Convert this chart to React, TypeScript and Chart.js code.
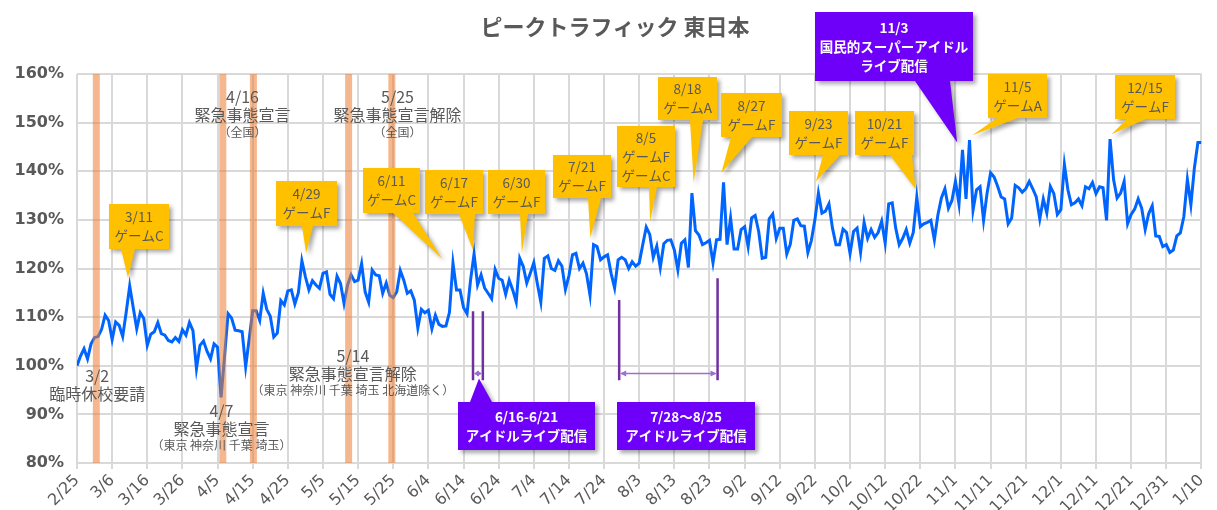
import React, { useEffect, useRef } from 'react';
import { Chart, registerables } from 'chart.js';

Chart.register(...registerables);

// ---------- DATA ----------
const xTickLabels = [
  '2/25', '3/6', '3/16', '3/26', '4/5', '4/15', '4/25', '5/5', '5/15', '5/25', '6/4',
  '6/14', '6/24', '7/4', '7/14', '7/24', '8/3', '8/13', '8/23', '9/2', '9/12', '9/22',
  '10/2', '10/12', '10/22', '11/1', '11/11', '11/21', '12/1', '12/11', '12/21', '12/31', '1/10',
];

// daily peak traffic (%), 2/25 .. 1/10
const trafficValues = [
  100.0, 102.0, 103.5, 101.4, 104.5, 105.8, 106.0, 107.5, 110.4, 109.3,
  105.4, 109.0, 108.3, 106.0, 111.0, 116.4, 112.0, 107.6, 110.9, 109.7,
  104.2, 106.5, 107.0, 108.9, 106.6, 106.3, 105.2, 104.9, 105.8, 105.0,
  107.4, 106.3, 108.9, 107.2, 99.4, 104.2, 105.1, 103.0, 101.4, 104.5,
  103.8, 93.5, 102.0, 110.7, 109.8, 107.3, 107.2, 107.0, 99.8, 105.5,
  111.3, 111.3, 109.3, 114.9, 111.6, 110.2, 105.9, 106.7, 113.4, 112.5,
  115.4, 115.6, 112.7, 115.0, 121.6, 118.3, 115.6, 117.5, 116.6, 115.9,
  119.0, 119.3, 114.7, 113.8, 118.4, 116.9, 112.8, 116.6, 118.7, 117.3,
  117.6, 121.0, 115.2, 113.1, 119.7, 118.7, 118.5, 114.9, 117.0, 114.5,
  114.0, 115.2, 119.6, 117.6, 114.9, 115.4, 113.5, 107.8, 111.6, 110.9,
  111.4, 107.6, 110.4, 108.5, 108.1, 108.2, 111.0, 121.1, 115.6, 115.6,
  112.0, 110.7, 117.6, 123.0, 116.6, 118.7, 116.0, 114.9, 113.8, 119.8,
  118.0, 117.6, 114.7, 117.6, 115.6, 113.1, 122.1, 120.4, 117.0, 119.0,
  121.2, 116.9, 113.1, 122.1, 122.6, 120.0, 119.6, 121.6, 120.5, 115.7,
  118.5, 122.8, 123.1, 120.0, 121.1, 118.9, 114.5, 124.9, 124.5, 121.8,
  122.4, 122.8, 119.0, 116.0, 121.8, 122.3, 121.8, 120.0, 121.4, 120.5,
  121.1, 124.9, 128.5, 127.0, 122.3, 124.6, 120.2, 125.1, 125.8, 125.9,
  123.8, 119.7, 125.2, 125.9, 120.2, 135.5, 127.8, 126.9, 124.9, 125.3,
  125.8, 121.2, 125.9, 126.0, 137.7, 124.9, 130.4, 124.0, 124.0, 128.0,
  128.6, 124.5, 130.4, 130.9, 127.6, 122.1, 122.3, 130.2, 131.2, 126.2,
  128.3, 128.3, 123.0, 125.0, 129.9, 130.2, 128.8, 128.7, 123.3, 125.8,
  130.0, 135.5, 131.4, 131.8, 133.3, 128.3, 124.9, 124.9, 128.1, 127.4,
  123.1, 127.6, 128.3, 123.3, 129.5, 126.2, 128.0, 126.4, 127.4, 129.7,
  125.2, 133.3, 133.5, 128.3, 124.9, 126.2, 128.0, 125.2, 127.4, 134.7,
  128.6, 129.2, 129.5, 129.9, 125.9, 131.0, 134.5, 136.4, 132.4, 134.0,
  137.9, 133.3, 144.4, 134.3, 146.4, 132.0, 136.2, 136.8, 129.9, 135.5,
  139.7, 138.8, 136.9, 134.7, 134.3, 129.2, 130.4, 137.1, 136.6, 135.7,
  136.4, 137.9, 136.4, 134.7, 130.2, 134.3, 131.4, 136.9, 135.4, 131.1,
  132.1, 141.4, 136.2, 133.1, 133.5, 134.3, 132.9, 136.8, 136.4, 137.7,
  135.4, 136.8, 136.6, 129.9, 146.6, 138.3, 134.5, 135.5, 137.9, 129.2,
  131.1, 132.2, 134.3, 132.4, 128.0, 131.3, 132.9, 126.7, 126.6, 124.5,
  124.9, 123.3, 123.8, 126.7, 127.3, 130.7, 138.3, 133.1, 140.7, 145.9, 145.9,
];

const dayIndex = trafficValues.map((_, i) => i);

// y axis range (%)
const yMin = 80;
const yMax = 160;
const yStep = 10;

// event markers (day index from 2/25)
const eventBarDays = [5.5, 41.5, 50.2, 77.3, 89.6];

const titleText = 'ピークトラフィック 東日本';

// ---------- ANNOTATION LAYOUT ----------
const YELLOW = '#FFC000';
const PURPLE = 'rgb(110,0,250)';
const GRAY_TEXT = '#595959';

type Callout = {
  lines: string[];
  box: [number, number, number, number];
  base?: [number, number];
  tip?: [number, number];
  fill: string;
  color: string;
  bold?: boolean;
  baseTop?: boolean;
};

const callouts: Callout[] = [
  { lines: ['3/11', 'ゲームC'], box: [109, 204, 60, 45], base: [121, 135], tip: [14.5, 118.2], fill: YELLOW, color: GRAY_TEXT },
  { lines: ['4/29', 'ゲームF'], box: [276, 181, 61, 45], base: [302, 313], tip: [65.2, 123.2], fill: YELLOW, color: GRAY_TEXT },
  { lines: ['6/11', 'ゲームC'], box: [363, 168, 57, 45], base: [393, 413], tip: [103.9, 122.0], fill: YELLOW, color: GRAY_TEXT },
  { lines: ['6/17', 'ゲームF'], box: [425, 170, 58, 44], base: [459, 475], tip: [112.7, 123.8], fill: YELLOW, color: GRAY_TEXT },
  { lines: ['6/30', 'ゲームF'], box: [488, 170, 57, 44], base: [520, 528], tip: [126.6, 123.2], fill: YELLOW, color: GRAY_TEXT },
  { lines: ['7/21', 'ゲームF'], box: [553, 155, 58, 43], base: [588, 601], tip: [146.1, 126.3], fill: YELLOW, color: GRAY_TEXT },
  { lines: ['8/5', 'ゲームF', 'ゲームC'], box: [617, 126, 58, 61], base: [649, 657], tip: [163.1, 129.6], fill: YELLOW, color: GRAY_TEXT },
  { lines: ['8/18', 'ゲームA'], box: [658, 77, 59, 43], base: [690, 703], tip: [175.5, 137.7], fill: YELLOW, color: GRAY_TEXT },
  { lines: ['8/27', 'ゲームF'], box: [721, 93, 61, 44], base: [731, 752], tip: [183.4, 139.7], fill: YELLOW, color: GRAY_TEXT },
  { lines: ['9/23', 'ゲームF'], box: [789, 111, 59, 44], base: [823, 840], tip: [210.3, 137.9], fill: YELLOW, color: GRAY_TEXT },
  { lines: ['10/21', 'ゲームF'], box: [855, 111, 59, 44], base: [890, 912], tip: [238.6, 136.4], fill: YELLOW, color: GRAY_TEXT },
  { lines: ['11/5', 'ゲームA'], box: [988, 74, 59, 44], base: [997, 1018], tip: [254.8, 147.4], fill: YELLOW, color: GRAY_TEXT },
  { lines: ['12/15', 'ゲームF'], box: [1115, 75, 60, 44], base: [1127, 1146], tip: [294.4, 147.6], fill: YELLOW, color: GRAY_TEXT },
  { lines: ['11/3', '国民的スーパーアイドル', 'ライブ配信'], box: [815, 12, 158, 69], base: [915, 950], tip: [250.5, 145.9], fill: PURPLE, color: '#ffffff', bold: true },
  { lines: ['6/16-6/21', 'アイドルライブ配信'], box: [458, 402, 137, 48], base: [470, 492], tip: [114.4, 97.4], fill: PURPLE, color: '#ffffff', bold: true, baseTop: true },
  { lines: ['7/28〜8/25', 'アイドルライブ配信'], box: [617, 402, 138, 48], fill: PURPLE, color: '#ffffff', bold: true },
];

type TextGroup = { day: number; value: number; lines: string[]; small?: string };
const eventTexts: TextGroup[] = [
  { day: 5.74, value: 98.0, lines: ['3/2', '臨時休校要請'] },
  { day: 41.1, value: 90.75, lines: ['4/7', '緊急事態宣言'], small: '（東京 神奈川 千葉 埼玉）' },
  { day: 47.1, value: 155.2, lines: ['4/16', '緊急事態宣言'], small: '（全国）' },
  { day: 78.5, value: 102.1, lines: ['5/14', '緊急事態宣言解除'], small: '（東京 神奈川 千葉 埼玉 北海道除く）' },
  { day: 91.2, value: 155.2, lines: ['5/25', '緊急事態宣言解除'], small: '（全国）' },
];

type Range = { from: number; to: number; topFrom: number; topTo: number; bottom: number; arrow: number };
const liveRanges: Range[] = [
  { from: 112.7, to: 115.5, topFrom: 111.2, topTo: 111.2, bottom: 97.0, arrow: 98.4 },
  { from: 154.3, to: 182.3, topFrom: 113.5, topTo: 118.0, bottom: 97.0, arrow: 98.4 },
];

const CJK = "'Noto Sans CJK JP', 'DejaVu Sans', sans-serif";

function drawCallout(ctx: CanvasRenderingContext2D, c: Callout, tip: [number, number] | null) {
  const [bx, by, bw, bh] = c.box;
  ctx.save();
  ctx.shadowColor = 'rgba(0,0,0,0.35)';
  ctx.shadowBlur = 4;
  ctx.shadowOffsetX = 3;
  ctx.shadowOffsetY = 3;
  ctx.fillStyle = c.fill;
  ctx.beginPath();
  if (tip && c.base) {
    if (c.baseTop) {
      ctx.moveTo(bx, by);
      ctx.lineTo(c.base[0], by);
      ctx.lineTo(tip[0], tip[1]);
      ctx.lineTo(c.base[1], by);
      ctx.lineTo(bx + bw, by);
      ctx.lineTo(bx + bw, by + bh);
      ctx.lineTo(bx, by + bh);
    } else {
      ctx.moveTo(bx, by);
      ctx.lineTo(bx + bw, by);
      ctx.lineTo(bx + bw, by + bh);
      ctx.lineTo(c.base[1], by + bh);
      ctx.lineTo(tip[0], tip[1]);
      ctx.lineTo(c.base[0], by + bh);
      ctx.lineTo(bx, by + bh);
    }
  } else {
    ctx.rect(bx, by, bw, bh);
  }
  ctx.closePath();
  ctx.fill();
  ctx.restore();

  ctx.save();
  ctx.fillStyle = c.color;
  ctx.font = `${c.bold ? 'bold ' : ''}13.5px ${CJK}`;
  ctx.textAlign = 'center';
  ctx.textBaseline = 'middle';
  const lh = 19;
  const cx = bx + bw / 2;
  const cy = by + bh / 2;
  const n = c.lines.length;
  c.lines.forEach((t, i) => {
    ctx.fillText(t, cx, cy + (i - (n - 1) / 2) * lh);
  });
  ctx.restore();
}

const annotationPlugin = {
  id: 'peakAnnotations',
  afterDatasetsDraw(chart: any) {
    const { ctx, chartArea } = chart;
    const xs = chart.scales.x;
    const ys = chart.scales.y;

    // orange event bars (semi-transparent, over the line)
    ctx.save();
    ctx.fillStyle = 'rgba(237,125,49,0.55)';
    eventBarDays.forEach((d) => {
      const px = xs.getPixelForValue(d);
      ctx.fillRect(px - 3.5, chartArea.top, 7, chartArea.bottom - chartArea.top);
    });
    ctx.restore();

    // live distribution ranges
    liveRanges.forEach((r) => {
      const x1 = xs.getPixelForValue(r.from);
      const x2 = xs.getPixelForValue(r.to);
      const yb = ys.getPixelForValue(r.bottom);
      const ya = ys.getPixelForValue(r.arrow);
      ctx.save();
      ctx.strokeStyle = '#7030A0';
      ctx.lineWidth = 2.5;
      ctx.beginPath();
      ctx.moveTo(x1, ys.getPixelForValue(r.topFrom));
      ctx.lineTo(x1, yb);
      ctx.moveTo(x2, ys.getPixelForValue(r.topTo));
      ctx.lineTo(x2, yb);
      ctx.stroke();
      ctx.strokeStyle = '#9B6FD0';
      ctx.fillStyle = '#9B6FD0';
      ctx.lineWidth = 1.5;
      ctx.beginPath();
      ctx.moveTo(x1 + 2, ya);
      ctx.lineTo(x2 - 2, ya);
      ctx.stroke();
      const ah = Math.min(6, (x2 - x1) / 2);
      ctx.beginPath();
      ctx.moveTo(x1 + 1, ya);
      ctx.lineTo(x1 + 1 + ah, ya - 3);
      ctx.lineTo(x1 + 1 + ah, ya + 3);
      ctx.closePath();
      ctx.fill();
      ctx.beginPath();
      ctx.moveTo(x2 - 1, ya);
      ctx.lineTo(x2 - 1 - ah, ya - 3);
      ctx.lineTo(x2 - 1 - ah, ya + 3);
      ctx.closePath();
      ctx.fill();
      ctx.restore();
    });

    // gray event texts
    eventTexts.forEach((g) => {
      const cx = xs.getPixelForValue(g.day);
      const cy = ys.getPixelForValue(g.value);
      ctx.save();
      ctx.fillStyle = GRAY_TEXT;
      ctx.textAlign = 'center';
      ctx.textBaseline = 'middle';
      ctx.font = `16px ${CJK}`;
      g.lines.forEach((t, i) => {
        ctx.fillText(t, cx, cy + i * 18);
      });
      if (g.small) {
        ctx.font = `12px ${CJK}`;
        ctx.fillText(g.small, cx, cy + g.lines.length * 18 - 1);
      }
      ctx.restore();
    });

    // callouts
    callouts.forEach((c) => {
      const tip: [number, number] | null = c.tip
        ? [xs.getPixelForValue(c.tip[0]), ys.getPixelForValue(c.tip[1])]
        : null;
      drawCallout(ctx, c, tip);
    });

    // title
    ctx.save();
    ctx.fillStyle = GRAY_TEXT;
    ctx.font = `bold 22px ${CJK}`;
    ctx.textAlign = 'center';
    ctx.textBaseline = 'middle';
    ctx.fillText(titleText, 615, 27);
    ctx.restore();
  },
};

export default function App() {
  const canvasRef = useRef<HTMLCanvasElement | null>(null);

  useEffect(() => {
    document.body.style.margin = '0';
    const canvas = canvasRef.current;
    if (!canvas) return;
    const chart = new Chart(canvas, {
      type: 'line',
      data: {
        labels: dayIndex,
        datasets: [
          {
            data: trafficValues.map((v, i) => ({ x: dayIndex[i], y: v })),
            borderColor: 'rgb(0,100,255)',
            borderWidth: 3,
            pointRadius: 0,
            tension: 0,
            fill: false,
          },
        ],
      },
      options: {
        animation: false,
        responsive: false,
        maintainAspectRatio: false,
        layout: { padding: { top: 74, right: 9, left: 0, bottom: 0 } },
        plugins: {
          legend: { display: false },
          tooltip: { enabled: false },
          title: { display: false },
        },
        scales: {
          x: {
            type: 'linear',
            min: 0,
            max: 320,
            afterFit: (s: any) => {
              s.height = 47;
            },
            grid: {
              color: '#d9d9d9',
              lineWidth: 2,
              drawTicks: true,
              tickLength: 6,
            },
            border: { display: true, color: '#d9d9d9', width: 2 },
            ticks: {
              stepSize: 10,
              autoSkip: false,
              minRotation: 45,
              maxRotation: 45,
              color: GRAY_TEXT,
              font: { family: "'DejaVu Sans', sans-serif", size: 16 },
              padding: 2,
              callback: (v: any) => {
                const idx = Math.round(Number(v) / 10);
                return xTickLabels[idx] ?? '';
              },
            },
          },
          y: {
            min: yMin,
            max: yMax,
            afterFit: (s: any) => {
              s.width = 77;
            },
            grid: {
              color: '#d9d9d9',
              lineWidth: 2,
              drawTicks: false,
            },
            border: { display: false },
            ticks: {
              stepSize: yStep,
              color: GRAY_TEXT,
              padding: 13,
              font: { family: "'DejaVu Sans', sans-serif", size: 16, weight: 'bold' },
              callback: (v: any) => `${v}%`,
            },
          },
        },
      },
      plugins: [annotationPlugin],
    });
    return () => chart.destroy();
  }, []);

  return (
    <div style={{ width: 1217, height: 510, position: 'relative', background: '#fff' }}>
      <canvas ref={canvasRef} width={1217} height={510} style={{ display: 'block' }} />
    </div>
  );
}
